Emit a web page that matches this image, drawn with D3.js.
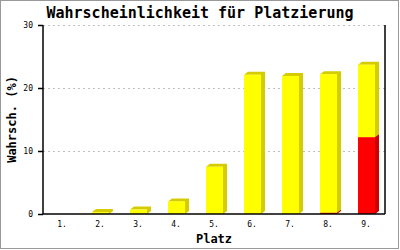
<!DOCTYPE html>
<html><head><meta charset="utf-8">
<script src="https://cdn.jsdelivr.net/npm/d3@7"></script>
<style>html,body{margin:0;padding:0;background:#fff;}svg{display:block;}</style>
</head><body>
<script>
const categories = ["1.","2.","3.","4.","5.","6.","7.","8.","9."];
const redValues = [0,0,0,0,0,0,0,0.2,12.2];
const yellowValues = [0,0.3,0.7,2.0,7.5,22.1,21.9,22.0,11.5];
const yTicks = [0,10,20,30];
const title = "Wahrscheinlichkeit für Platzierung";
const xTitle = "Platz";
const yTitle = "Wahrsch. (%)";

const W = 400, H = 250;
const svg = d3.select("body").append("svg").attr("width", W).attr("height", H);
svg.append("rect").attr("x",0.5).attr("y",0.5).attr("width",398).attr("height",248)
  .attr("fill","#fff").attr("stroke","#999").attr("stroke-width",1);

const L = 43, R = 385, T = 25, B = 214;
const x = d3.scaleBand().domain(categories).range([L, R]);
const y = d3.scaleLinear().domain([0, 30]).range([B, T]);
const mono = "'DejaVu Sans Mono','Liberation Mono',monospace";

// grid
svg.append("g").selectAll("line").data(yTicks.filter(t => t > 0)).join("line")
  .attr("x1", L).attr("x2", R).attr("y1", d => y(d) + 0.5).attr("y2", d => y(d) + 0.5)
  .attr("stroke", "#c0c0c0").attr("stroke-dasharray", "2,3");

// bars
const data = categories.map((c, i) => ({cat: c, red: redValues[i], yellow: yellowValues[i]}));
const stack = d3.stack().keys(["red", "yellow"])(data);
const colors = {red: ["#ff0000", "#cc0000"], yellow: ["#ffff00", "#d4cc00"]};
const bw = 17, dx = 4, dy = 3;
stack.forEach(layer => {
  const g = svg.append("g");
  layer.forEach(s => {
    const v0 = s[0], v1 = s[1];
    if (v1 - v0 <= 0) return;
    const cx = x(s.data.cat) + x.bandwidth() / 2;
    const x0 = Math.round(cx - bw / 2), x1 = x0 + bw;
    const yt = y(v1), yb = y(v0);
    const [front, side] = colors[layer.key];
    g.append("path")
      .attr("d", `M${x0},${yt} L${x0 + dx},${yt - dy} L${x1 + dx},${yt - dy} L${x1 + dx},${yb - dy} L${x1},${yb} L${x1},${yt} Z`)
      .attr("fill", side);
    g.append("rect").attr("x", x0).attr("y", yt).attr("width", bw).attr("height", Math.max(0, yb - yt))
      .attr("fill", front);
  });
});

// axes lines
const ax = svg.append("g").attr("stroke", "#000").attr("stroke-width", 1.5);
ax.append("line").attr("x1", L).attr("x2", L).attr("y1", T).attr("y2", B);
ax.append("line").attr("x1", R).attr("x2", R).attr("y1", T).attr("y2", B);
ax.append("line").attr("x1", L).attr("x2", R).attr("y1", B).attr("y2", B);

// y axis ticks via d3 axis
const yAxis = d3.axisLeft(y).tickValues(yTicks).tickSize(5).tickPadding(5).tickFormat(d3.format("d"));
const yg = svg.append("g").attr("transform", `translate(${L},0)`).call(yAxis);
yg.select(".domain").remove();
yg.selectAll("line").attr("stroke", "#000").attr("stroke-width", 1.5);
yg.selectAll("text").attr("font-family", mono).attr("font-size", 8).attr("fill", "#000");

const xAxis = d3.axisBottom(x).tickSize(0).tickPadding(7);
const xg = svg.append("g").attr("transform", `translate(0,${B})`).call(xAxis);
xg.select(".domain").remove();
xg.selectAll("text").attr("font-family", mono).attr("font-size", 8).attr("fill", "#000");

// titles
svg.append("text").attr("x", 200).attr("y", 18).attr("text-anchor", "middle")
  .attr("font-family", mono).attr("font-weight", "bold").attr("font-size", 15).text(title);
svg.append("text").attr("x", (L + R) / 2).attr("y", 243).attr("text-anchor", "middle")
  .attr("font-family", mono).attr("font-weight", "bold").attr("font-size", 12).text(xTitle);
svg.append("text").attr("transform", `translate(16,${(T + B) / 2}) rotate(-90)`).attr("text-anchor", "middle")
  .attr("font-family", mono).attr("font-weight", "bold").attr("font-size", 12).text(yTitle);
</script>
</body></html>
